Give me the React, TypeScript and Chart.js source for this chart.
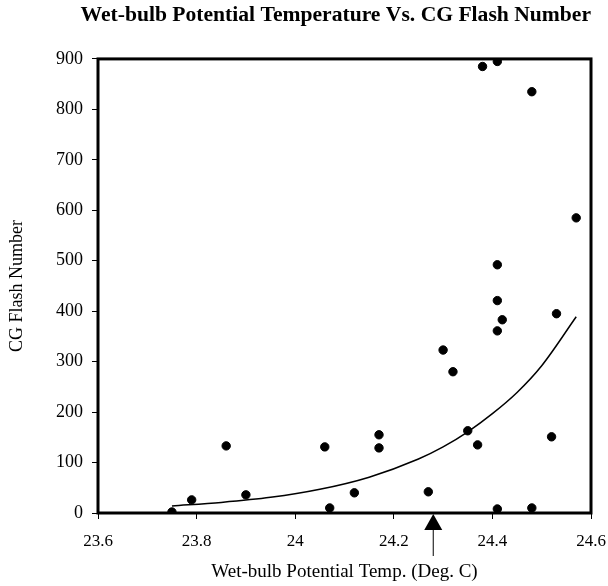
import React, { useEffect, useRef } from "react";
import { Chart, registerables } from "chart.js";

Chart.register(...registerables);

const flashTemp = [23.75, 23.79, 23.86, 23.9, 24.06, 24.07, 24.12, 24.17, 24.17, 24.27, 24.3, 24.32, 24.35, 24.37, 24.38, 24.41, 24.41, 24.41, 24.42, 24.41, 24.41, 24.48, 24.48, 24.52, 24.53, 24.57];
const flashCount = [2, 26, 133, 36, 131, 10, 40, 155, 129, 42, 323, 280, 163, 135, 885, 895, 492, 421, 383, 361, 8, 10, 835, 151, 395, 585];

const trendTemp = [23.75, 23.85, 23.95, 24.05, 24.15, 24.25, 24.3, 24.35, 24.4, 24.45, 24.5, 24.57];
const trendCount = [14, 21, 31, 47, 71, 107, 131, 161, 197, 239, 292, 389];

const xTickValues = [23.6, 23.8, 24, 24.2, 24.4, 24.6];
const yTickValues = [0, 100, 200, 300, 400, 500, 600, 700, 800, 900];

const markerTemp = 24.28;

const chartTitle = "Wet-bulb Potential Temperature Vs. CG Flash Number";
const xTitle = "Wet-bulb Potential Temp. (Deg. C)";
const yTitle = "CG Flash Number";

const SERIF = "'Liberation Serif', 'Times New Roman', serif";

const framePlugin = {
  id: "frameAndArrow",
  afterDraw(chart: any) {
    const { ctx, chartArea, scales } = chart;
    ctx.save();
    ctx.strokeStyle = "#000";
    ctx.lineWidth = 3;
    ctx.strokeRect(chartArea.left, chartArea.top, chartArea.right - chartArea.left, chartArea.bottom - chartArea.top);
    const x = scales.x.getPixelForValue(markerTemp);
    const b = chartArea.bottom + 1;
    ctx.fillStyle = "#000";
    ctx.beginPath();
    ctx.moveTo(x, b);
    ctx.lineTo(x - 9, b + 16);
    ctx.lineTo(x + 9, b + 16);
    ctx.closePath();
    ctx.fill();
    ctx.lineWidth = 1;
    ctx.beginPath();
    ctx.moveTo(x, b + 16);
    ctx.lineTo(x, b + 42);
    ctx.stroke();
    ctx.restore();
  },
};

export default function App() {
  const ref = useRef<HTMLCanvasElement>(null);
  useEffect(() => {
    if (!ref.current) return;
    const chart = new Chart(ref.current, {
      type: "scatter",
      data: {
        datasets: [
          {
            label: "Flashes",
            data: flashTemp.map((t, i) => ({ x: t, y: flashCount[i] })),
            backgroundColor: "#000",
            borderColor: "#000",
            pointRadius: 4.2,
            showLine: false,
          },
          {
            label: "Trend",
            data: trendTemp.map((t, i) => ({ x: t, y: trendCount[i] })),
            showLine: true,
            borderColor: "#000",
            borderWidth: 1.5,
            pointRadius: 0,
            cubicInterpolationMode: "monotone",
            fill: false,
          } as any,
        ],
      },
      options: {
        responsive: false,
        animation: false,
        layout: { padding: { left: 0, right: 17, top: 0, bottom: 0 } },
        plugins: {
          legend: { display: false },
          tooltip: { enabled: false },
          title: {
            display: true,
            text: chartTitle,
            align: "end",
            color: "#000",
            font: { family: SERIF, size: 21.6, weight: "bold" },
            padding: { top: 2, bottom: 31 },
          },
        },
        scales: {
          x: {
            type: "linear",
            min: 23.6,
            max: 24.6,
            afterBuildTicks: (s: any) => {
              s.ticks = xTickValues.map((v) => ({ value: v }));
            },
            afterFit: (s: any) => {
              s.height = 73;
              s.paddingLeft = 0;
              s.paddingRight = 0;
            },
            grid: { display: true, drawOnChartArea: false, drawTicks: true, tickLength: 6, tickColor: "#000" },
            border: { display: false },
            ticks: {
              color: "#000",
              padding: 12,
              maxRotation: 0,
              font: { family: SERIF, size: 17 },
              callback: (v: any) => String(+Number(v).toFixed(1)),
            },
            title: {
              display: true,
              text: xTitle,
              color: "#000",
              font: { family: SERIF, size: 19 },
              padding: { top: 0, bottom: 2.5 },
            },
          },
          y: {
            type: "linear",
            min: 0,
            max: 900,
            afterBuildTicks: (s: any) => {
              s.ticks = yTickValues.map((v) => ({ value: v }));
            },
            afterFit: (s: any) => {
              s.width = 98;
              s.paddingTop = 0;
              s.paddingBottom = 0;
            },
            grid: { display: true, drawOnChartArea: false, drawTicks: true, tickLength: 6, tickColor: "#000" },
            border: { display: false },
            ticks: {
              color: "#000",
              padding: 9,
              font: { family: SERIF, size: 18 },
              callback: (v: any) => String(v),
            },
            title: {
              display: true,
              text: yTitle,
              color: "#000",
              font: { family: SERIF, size: 18 },
              padding: { top: 6, bottom: 0 },
            },
          },
        },
      },
      plugins: [framePlugin],
    });
    return () => chart.destroy();
  }, []);
  return (
    <div style={{ position: "fixed", left: 0, top: 0, width: 608, height: 586, background: "#fff" }}>
      <canvas ref={ref} width={608} height={586} style={{ display: "block" }} />
    </div>
  );
}
